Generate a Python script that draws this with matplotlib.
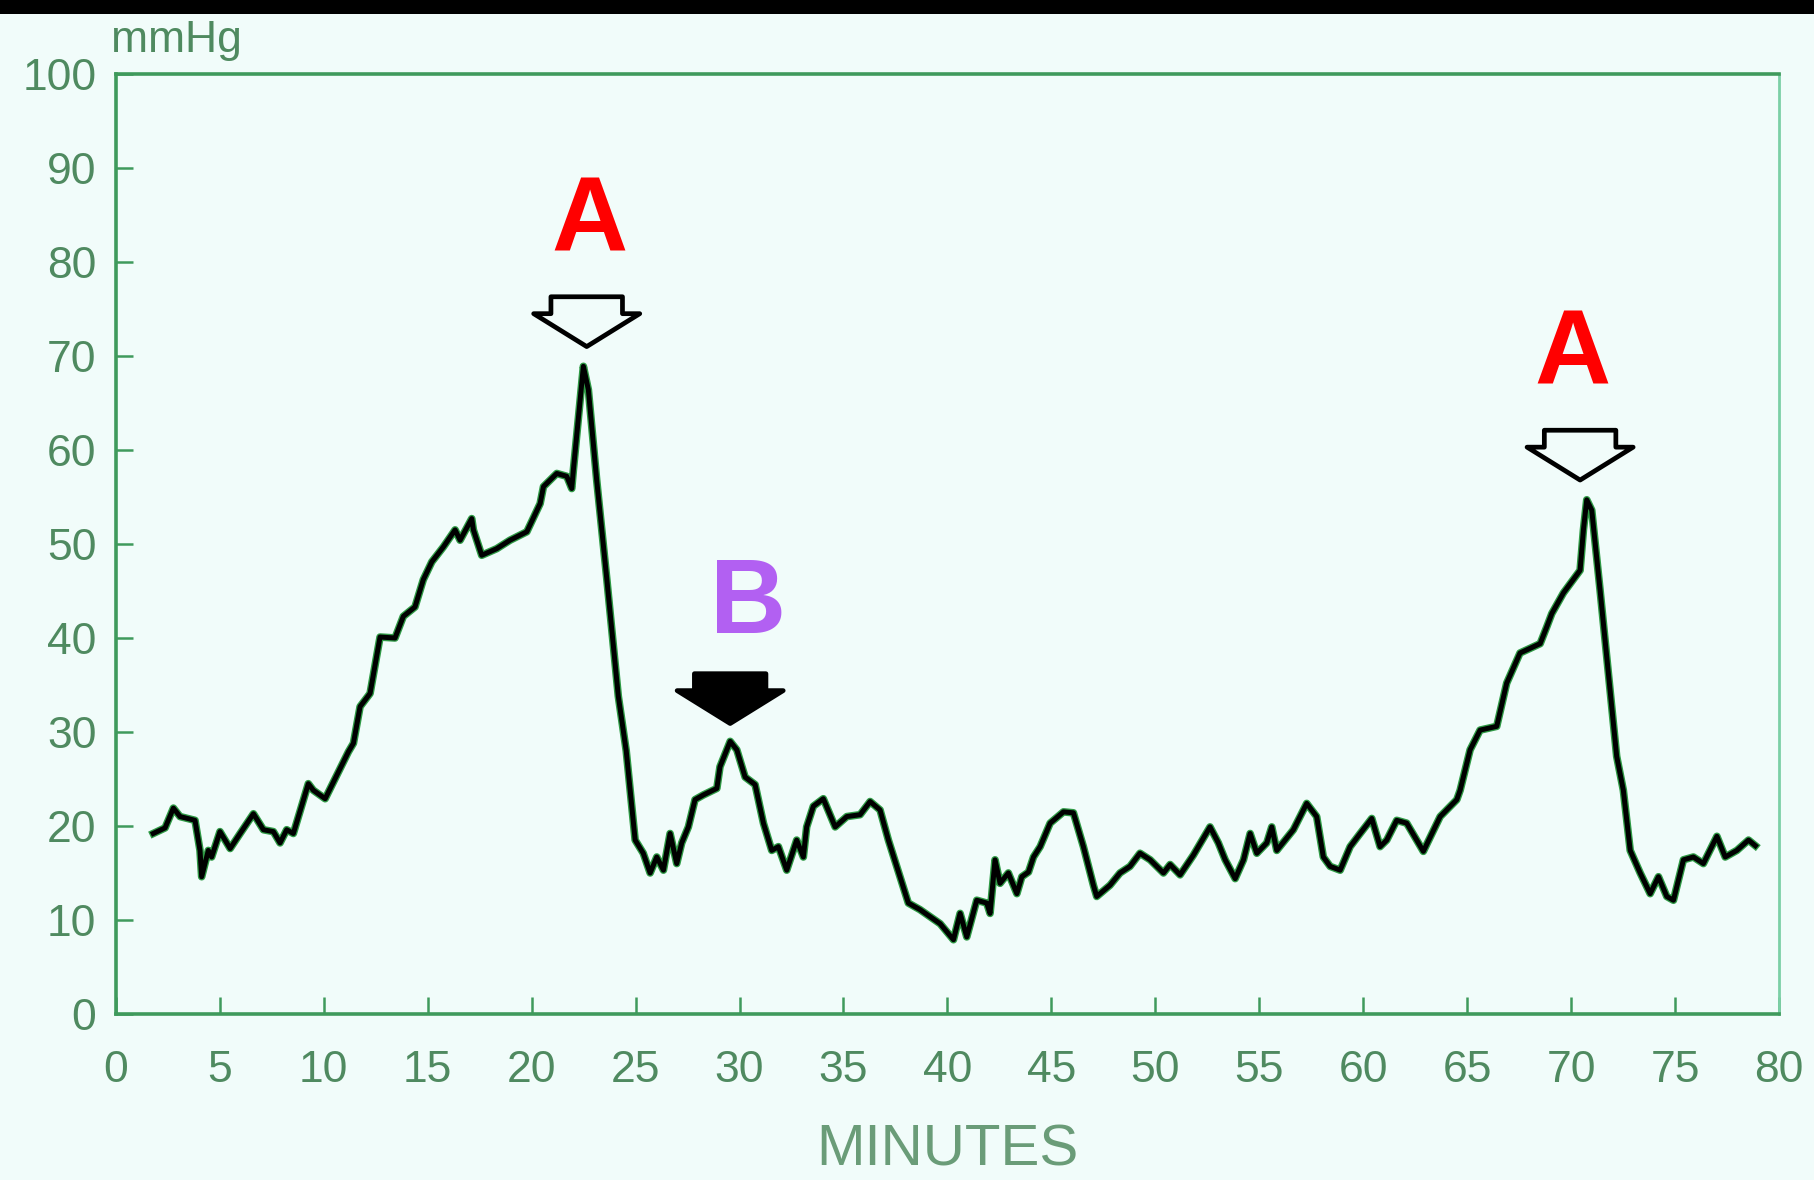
import matplotlib.pyplot as plt
from matplotlib.patches import Polygon, Rectangle

# pressure trace (minutes, mmHg)
minutes = [1.80, 2.37, 2.77, 3.09, 3.81, 4.05, 4.13, 4.45, 4.61, 5.01, 5.50, 5.98,
           6.62, 7.10, 7.58, 7.90, 8.22, 8.54, 9.26, 9.50, 10.07, 10.63, 11.19, 11.43,
           11.75, 12.23, 12.63, 12.71, 13.43, 13.83, 14.39, 14.79, 15.20, 15.76, 16.32,
           16.56, 17.12, 17.20, 17.60, 18.32, 18.96, 19.77, 20.41, 20.57, 21.21, 21.69,
           21.93, 22.01, 22.49, 22.73, 23.13, 23.62, 24.17, 24.55, 24.98, 25.37, 25.70,
           26.02, 26.34, 26.66, 26.98, 27.22, 27.54, 27.86, 28.26, 28.91, 29.06, 29.55,
           29.87, 30.27, 30.75, 31.15, 31.55, 31.87, 32.27, 32.75, 33.07, 33.23, 33.55,
           34.03, 34.60, 35.16, 35.80, 36.28, 36.76, 37.16, 37.56, 38.12, 38.68, 39.65,
           40.29, 40.61, 40.93, 41.41, 41.89, 42.05, 42.29, 42.53, 42.93, 43.34, 43.58,
           43.90, 44.14, 44.46, 44.94, 45.58, 46.06, 46.54, 47.02, 47.18, 47.82, 48.30,
           48.78, 49.26, 49.75, 50.39, 50.71, 51.19, 51.83, 52.63, 53.03, 53.36, 53.84,
           54.24, 54.56, 54.88, 55.36, 55.60, 55.84, 56.64, 57.28, 57.76, 58.08, 58.41,
           58.89, 59.37, 59.85, 60.41, 60.81, 61.13, 61.61, 62.09, 62.89, 63.70, 64.50,
           64.66, 65.14, 65.62, 66.42, 66.90, 67.54, 68.51, 68.83, 69.07, 69.63, 70.43,
           70.59, 70.75, 70.99, 71.39, 71.87, 72.19, 72.51, 72.84, 73.32, 73.80, 74.20,
           74.60, 74.92, 75.40, 75.88, 76.36, 77.01, 77.41, 77.97, 78.53, 78.86]
pressure = [19.2, 19.8, 21.9, 21.0, 20.6, 17.4, 14.6, 17.4, 16.7, 19.4, 17.6, 19.2,
            21.3, 19.6, 19.4, 18.2, 19.6, 19.2, 24.5, 23.8, 22.9, 25.4, 27.9, 28.8,
            32.7, 34.1, 39.1, 40.1, 40.0, 42.3, 43.3, 46.2, 48.1, 49.7, 51.5,
            50.4, 52.7, 51.5, 48.8, 49.5, 50.4, 51.3, 54.3, 56.1, 57.5, 57.2,
            55.9, 57.9, 68.9, 66.4, 56.8, 46.2, 33.8, 28.0, 18.5, 17.1, 15.0,
            16.7, 15.3, 19.2, 16.0, 18.2, 19.9, 22.8, 23.3, 24.0, 26.3, 29.0,
            28.1, 25.2, 24.4, 20.3, 17.4, 17.8, 15.3, 18.5, 16.7, 19.9, 22.1,
            22.9, 19.9, 21.0, 21.2, 22.6, 21.7, 18.5, 15.7, 11.8, 11.1, 9.6,
            7.9, 10.7, 8.2, 12.1, 11.8, 10.7, 16.4, 13.9, 15.0, 12.8, 14.6,
            15.1, 16.7, 17.8, 20.3, 21.5, 21.4, 17.8, 13.7, 12.5, 13.7, 15.0,
            15.7, 17.1, 16.4, 15.0, 15.9, 14.8, 16.9, 19.9, 18.2, 16.4, 14.4,
            16.4, 19.2, 17.1, 18.2, 19.9, 17.4, 19.6, 22.4, 21.0, 16.7, 15.7,
            15.3, 17.8, 19.2, 20.8, 17.8, 18.5, 20.6, 20.3, 17.3, 21.0, 22.8,
            23.8, 28.1, 30.2, 30.6, 35.2, 38.4, 39.4, 41.2, 42.6, 44.8, 47.2,
            51.5, 54.7, 53.6, 45.1, 34.5, 27.4, 23.8, 17.4, 15.0, 12.8, 14.6,
            12.5, 12.1, 16.4, 16.7, 16.0, 18.9, 16.7, 17.4, 18.5, 17.9]

x_ticks = list(range(0, 81, 5))
y_ticks = list(range(0, 101, 10))

# markers above the peaks
arrow_x = [22.65, 29.55, 70.43]
arrow_tip = [71.0, 30.9, 56.8]
arrow_filled = [False, True, False]
label_text = ['A', 'B', 'A']
label_x = [22.8, 30.4, 70.05]
label_y = [81.1, 40.5, 67.0]
label_color = ['#ff0000', '#b260f2', '#ff0000']

bg = '#f1fcfa'
green = '#3f9a5c'
text_green = '#4f8a60'

fig = plt.figure(figsize=(18.15, 11.8), dpi=100, facecolor=bg)
ax = fig.add_axes([0.0638, 0.1407, 0.9164, 0.7966], facecolor=bg)

# green halo under the black trace, like the scan
ax.plot(minutes, pressure, color='#2f9a45', lw=5.5, solid_joinstyle='round', zorder=3)
ax.plot(minutes, pressure, color='black', lw=3.6, solid_joinstyle='round', zorder=4)


def arrow_poly(cx, tip, filled):
    base = tip + 3.5
    top = tip + 5.3
    shw, hhw = 1.72, 2.55
    pts = [(cx - shw, top), (cx + shw, top), (cx + shw, base), (cx + hhw, base),
           (cx, tip), (cx - hhw, base), (cx - shw, base)]
    return Polygon(pts, closed=True, facecolor='black' if filled else bg,
                   edgecolor='black', lw=3.4, joinstyle='round', zorder=5)


for cx, tip, filled in zip(arrow_x, arrow_tip, arrow_filled):
    ax.add_patch(arrow_poly(cx, tip, filled))

for t, lx, ly, c in zip(label_text, label_x, label_y, label_color):
    ax.text(lx, ly, t, color=c, fontsize=76, fontweight='bold',
            family='Liberation Sans', ha='center', va='baseline', zorder=6)

ax.set_xlim(0, 80)
ax.set_ylim(0, 100)
ax.set_xticks(x_ticks)
ax.set_yticks(y_ticks)
ax.tick_params(direction='in', length=12, width=1.8, color=green,
               labelcolor=text_green, labelsize=32)
ax.tick_params(axis='x', pad=26)
ax.tick_params(axis='y', pad=14)
for lab in ax.get_xticklabels() + ax.get_yticklabels():
    lab.set_family('Liberation Sans')

for side in ['left', 'bottom', 'top']:
    ax.spines[side].set_color(green)
    ax.spines[side].set_linewidth(2.6)
ax.spines['right'].set_color('#7cd0a6')
ax.spines['right'].set_linewidth(2.0)

ax.set_xlabel('MINUTES', fontsize=42, color='#6a9c78', family='Liberation Sans',
              labelpad=23)
fig.text(0.061, 0.956, 'mmHg', fontsize=32, color=text_green,
         family='Liberation Sans', ha='left', va='baseline')

# black strip along the top edge of the scan
fig.patches.append(Rectangle((0, 1 - 14 / 1180), 1, 14 / 1180, transform=fig.transFigure,
                             facecolor='black', edgecolor='none'))

fig.savefig('out.png', dpi=100, facecolor=bg)
